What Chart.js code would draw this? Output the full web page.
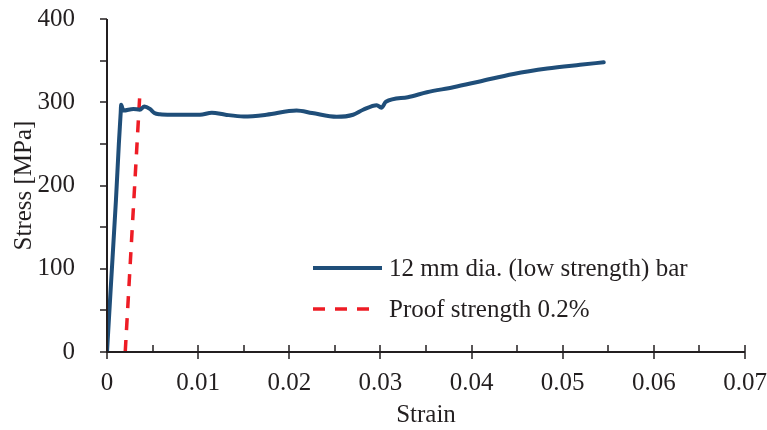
<!DOCTYPE html>
<html>
<head>
<meta charset="utf-8">
<script src="https://cdn.jsdelivr.net/npm/chart.js@4"></script>
<style>
  html, body { margin: 0; padding: 0; background: #fff; }
  #wrap { width: 767px; height: 430px; }
</style>
</head>
<body>
<div id="wrap"><canvas id="stressChart" width="767" height="430"></canvas></div>
<script>
const barStrain = [0, 0.0004, 0.00098, 0.0013, 0.0015, 0.00155, 0.0018, 0.0029, 0.0036, 0.0041, 0.0047, 0.0052,
  0.0058, 0.007, 0.0102, 0.0115, 0.013, 0.015, 0.0175, 0.0208, 0.0225, 0.0252, 0.027, 0.0281, 0.0296,
  0.0301, 0.0306, 0.033, 0.0351, 0.038, 0.0409, 0.0446, 0.0483, 0.0519, 0.0545];
const barStress = [0, 75, 182, 250, 287, 297, 290, 292, 291, 295, 292, 287,
  285.5, 285, 285, 287.5, 285, 283, 285, 290, 287, 282.5, 285, 291, 296.5,
  293.5, 300.5, 306, 312, 318, 325, 334, 340.5, 345, 348];

const proofStrain = [0.002, 0.0036];
const proofStress = [0, 309];

const xTicks = [0, 0.01, 0.02, 0.03, 0.04, 0.05, 0.06, 0.07];
const yTicks = [0, 100, 200, 300, 400];

const textColor = '#231f20';
const font = { family: '"Liberation Serif", "Times New Roman", serif', size: 25 };

// axis lines, major and minor tick marks
const axisPlugin = {
  id: 'axisMarks',
  afterDatasetsDraw(chart) {
    const { ctx, chartArea: a, scales: { x, y } } = chart;
    ctx.save();
    ctx.strokeStyle = textColor;
    ctx.lineWidth = 2;
    ctx.beginPath();
    ctx.moveTo(a.left, a.top);
    ctx.lineTo(a.left, a.bottom);
    ctx.lineTo(a.right, a.bottom);
    ctx.stroke();
    ctx.lineWidth = 1.5;
    ctx.beginPath();
    for (let v = 0; v <= 400.001; v += 50) {
      const py = Math.round(y.getPixelForValue(v)) ;
      ctx.moveTo(a.left - 7, py);
      ctx.lineTo(a.left, py);
    }
    for (let i = 0; i <= 14; i++) {
      const px = Math.round(x.getPixelForValue(i * 0.005));
      if (i % 2 === 0) {
        ctx.moveTo(px, a.bottom - 7);
        ctx.lineTo(px, a.bottom + 7);
      } else {
        ctx.moveTo(px, a.bottom - 7);
        ctx.lineTo(px, a.bottom);
      }
    }
    ctx.stroke();
    ctx.restore();
  }
};

// legend inside the plot area
const legendPlugin = {
  id: 'innerLegend',
  afterDraw(chart) {
    const { ctx } = chart;
    const rows = [268, 309];
    ctx.save();
    ctx.font = `${font.size}px ${font.family}`;
    ctx.textBaseline = 'middle';
    chart.data.datasets.forEach((ds, i) => {
      const yy = rows[i];
      ctx.strokeStyle = ds.borderColor;
      ctx.lineWidth = ds.borderWidth;
      ctx.setLineDash(ds.borderDash || []);
      ctx.beginPath();
      ctx.moveTo(313, yy);
      ctx.lineTo(i === 0 ? 382 : 369, yy);
      ctx.stroke();
      ctx.setLineDash([]);
      ctx.fillStyle = textColor;
      ctx.fillText(ds.label, 389, yy + 1);
    });
    ctx.restore();
  }
};

const ctx = document.getElementById('stressChart').getContext('2d');
new Chart(ctx, {
  type: 'scatter',
  data: {
    datasets: [
      {
        label: '12 mm dia. (low strength) bar',
        data: barStrain.map((s, i) => ({ x: s, y: barStress[i] })),
        showLine: true,
        borderColor: '#1f4e79',
        borderWidth: 4,
        pointRadius: 0,
        cubicInterpolationMode: 'monotone',
        borderCapStyle: 'round',
        borderJoinStyle: 'round',
      },
      {
        label: 'Proof strength 0.2%',
        data: proofStrain.map((s, i) => ({ x: s, y: proofStress[i] })),
        showLine: true,
        borderColor: '#ee1c25',
        borderWidth: 3.5,
        borderDash: [12, 10],
        pointRadius: 0,
      },
    ],
  },
  options: {
    responsive: false,
    animation: false,
    layout: { padding: { top: 19, right: 22, left: 0, bottom: 0 } },
    scales: {
      x: {
        type: 'linear',
        min: 0,
        max: 0.07,
        afterBuildTicks: (s) => { s.ticks = xTicks.map(v => ({ value: v })); },
        afterFit: (s) => { s.height = 78; s.paddingLeft = 0; s.paddingRight = 0; },
        grid: { display: false },
        border: { display: false },
        ticks: { color: textColor, font, padding: 8, maxRotation: 0, callback: (v) => String(+v.toFixed(2)) },
        title: { display: true, text: 'Strain', color: textColor, font, padding: { top: 0, bottom: 0 } },
      },
      y: {
        min: 0,
        max: 400,
        afterBuildTicks: (s) => { s.ticks = yTicks.map(v => ({ value: v })); },
        afterFit: (s) => { s.width = 107; s.paddingTop = 0; s.paddingBottom = 0; },
        grid: { display: false },
        border: { display: false },
        ticks: { color: textColor, font, padding: 24 },
        title: { display: true, text: 'Stress [MPa]', color: textColor, font, padding: { top: 9, bottom: 0 } },
      },
    },
    plugins: {
      legend: { display: false },
      tooltip: { enabled: false },
    },
  },
  plugins: [axisPlugin, legendPlugin],
});
</script>
</body>
</html>
